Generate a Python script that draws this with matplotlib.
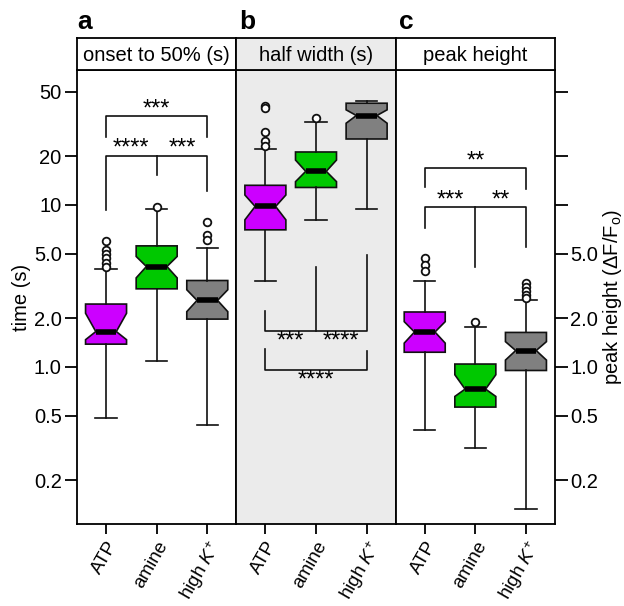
import numpy as np
import matplotlib
matplotlib.use("Agg")
import matplotlib.pyplot as plt

plt.rcParams['font.family'] = ['Liberation Sans', 'DejaVu Sans']
plt.rcParams['mathtext.fontset'] = 'custom'
plt.rcParams['mathtext.rm'] = 'Liberation Sans'
plt.rcParams['mathtext.it'] = 'Liberation Sans:italic'

# categories and panel titles
groups = ['ATP', 'amine', 'high $K^{+}$']
titles = ['onset to 50% (s)', 'half width (s)', 'peak height']
letters = ['a', 'b', 'c']
colors = ['#cc00ff', '#00c800', '#808080']

# box stats per panel: (whislo, q1, cilo, med, cihi, q3, whishi, fliers)
onset = [
    (0.48, 1.38, 1.47, 1.65, 2.14, 2.44, 4.04, [6.02, 5.27, 4.98, 4.71, 4.38, 4.14]),
    (1.09, 3.03, 3.54, 4.16, 4.80, 5.58, 9.4, [9.7]),
    (0.436, 1.97, 2.19, 2.57, 2.99, 3.41, 5.40, [7.78, 6.53, 6.08]),
]
half_width = [
    (3.40, 7.01, 8.08, 9.77, 11.5, 13.2, 22.2, [40.8, 39.5, 28.1, 24.9, 23.2]),
    (8.08, 12.8, 13.9, 16.1, 18.9, 21.2, 32.5, [34.6]),
    (9.40, 25.5, 31.9, 35.6, 38.6, 42.4, 44.0, []),
]
peak = [
    (0.407, 1.23, 1.40, 1.64, 1.90, 2.18, 3.40, [4.69, 4.26, 3.88]),
    (0.315, 0.564, 0.656, 0.728, 0.893, 1.04, 1.77, [1.90]),
    (0.133, 0.949, 1.10, 1.26, 1.43, 1.63, 2.59, [3.28, 3.10, 2.92, 2.78, 2.66]),
]
panels = [onset, half_width, peak]

# significance brackets: (x1, x2, bar y, leg1 end, leg2 end, mid leg end, labels)
brackets = [
    [(1, 3, 35.4, 26.4, 26.4, None, [(2, '***')]),
     (1, 3, 20.1, 9.31, 12.1, 15.2, [(1.5, '****'), (2.5, '***')])],
    [(1, 3, 1.67, 2.22, 4.87, 4.16, [(1.5, '***'), (2.5, '****')]),
     (1, 3, 0.958, 1.29, 1.26, None, [(2, '****')])],
    [(1, 3, 16.8, 12.8, 12.6, None, [(2, '**')]),
     (1, 3, 9.68, 7.18, 5.53, 4.16, [(1.5, '***'), (2.5, '**')])],
]

fig = plt.figure(figsize=(6.24, 6.06), dpi=100)
L, R = 77 / 624, 555 / 624
B, T = 1 - 524 / 606, 1 - 70 / 606
hh = 32 / 606
pw = (R - L) / 3

yticks = [0.2, 0.5, 1.0, 2.0, 5.0, 10, 20, 50]
ylabels = ['0.2', '0.5', '1.0', '2.0', '5.0', '10', '20', '50']
fs = 14.5

for i in range(3):
    ax = fig.add_axes([L + i * pw, B, pw, T - B])
    hx = fig.add_axes([L + i * pw, T, pw, hh])
    bg = '#ebebeb' if i == 1 else 'white'
    ax.set_facecolor(bg)
    hx.set_facecolor(bg)
    hx.set_xticks([])
    hx.set_yticks([])
    hx.text(0.5, 0.45, titles[i], ha='center', va='center', fontsize=fs)
    hx.text(0.02 if i else 0.0, 1.12, letters[i], transform=hx.transAxes,
            fontsize=19, fontweight='bold', ha='left', va='bottom')
    for s in hx.spines.values():
        s.set_linewidth(1.3)
    for s in ax.spines.values():
        s.set_linewidth(1.3)

    stats = []
    for k, (wl, q1, cl, md, ch, q3, wh, fl) in enumerate(panels[i]):
        stats.append(dict(whislo=wl, q1=q1, cilo=cl, med=md, cihi=ch,
                          q3=q3, whishi=wh, fliers=fl, label=groups[k]))
    bp = ax.bxp(stats, positions=[1, 2, 3], widths=0.81, shownotches=True,
                patch_artist=True,
                boxprops=dict(linewidth=1.2, edgecolor='#111111'),
                whiskerprops=dict(linewidth=1.2, color='#111111'),
                capprops=dict(linewidth=1.2, color='#111111'),
                medianprops=dict(linewidth=4, color='black'),
                flierprops=dict(marker='o', markersize=5.5, markerfacecolor='white',
                                markeredgecolor='#111111', markeredgewidth=1.3))
    for patch, c in zip(bp['boxes'], colors):
        patch.set_facecolor(c)
    for cap in bp['caps']:
        xd = cap.get_xdata()
        m = np.mean(xd)
        cap.set_xdata([m - 0.21, m + 0.21])

    ax.set_yscale('log')
    ax.set_ylim(0.107, 68)
    ax.set_xlim(0.426, 3.574)
    ax.set_xticks([1, 2, 3])
    ax.set_xticklabels(groups, rotation=60, ha='right', rotation_mode='anchor',
                       fontsize=13.5)
    ax.tick_params(axis='x', length=7, width=1.3, pad=3)
    ax.minorticks_off()
    if i == 0:
        ax.set_yticks(yticks)
        ax.set_yticklabels(ylabels, fontsize=fs)
        ax.tick_params(axis='y', length=9, width=1.3, direction='out', pad=2)
        ax.set_ylabel('time (s)', fontsize=fs, labelpad=2)
    elif i == 2:
        ax.yaxis.tick_right()
        ax.yaxis.set_label_position('right')
        ax.set_yticks(yticks)
        ax.set_yticklabels(ylabels[:5] + ['', '', ''], fontsize=fs)
        ax.tick_params(axis='y', length=9, width=1.3, direction='out', pad=2)
        ax.set_ylabel(r'peak height ($\Delta$F/F$_\mathrm{o}$)', fontsize=fs,
                      labelpad=2)
    else:
        ax.set_yticks([])

    # brackets
    for (x1, x2, yb, e1, e2, em, labs) in brackets[i]:
        below = e1 > yb
        ax.plot([x1, x1, x2, x2], [e1, yb, yb, e2], color='#111111', lw=1.2)
        if em is not None:
            ax.plot([2, 2], [yb, em], color='#111111', lw=1.2)
        for (lx, lt) in labs:
            if below:
                ax.text(lx, yb / 1.16, lt, ha='center', va='center', fontsize=17)
            else:
                ax.text(lx, yb * 1.10, lt, ha='center', va='center', fontsize=17)

fig.savefig('out.png', dpi=100)
